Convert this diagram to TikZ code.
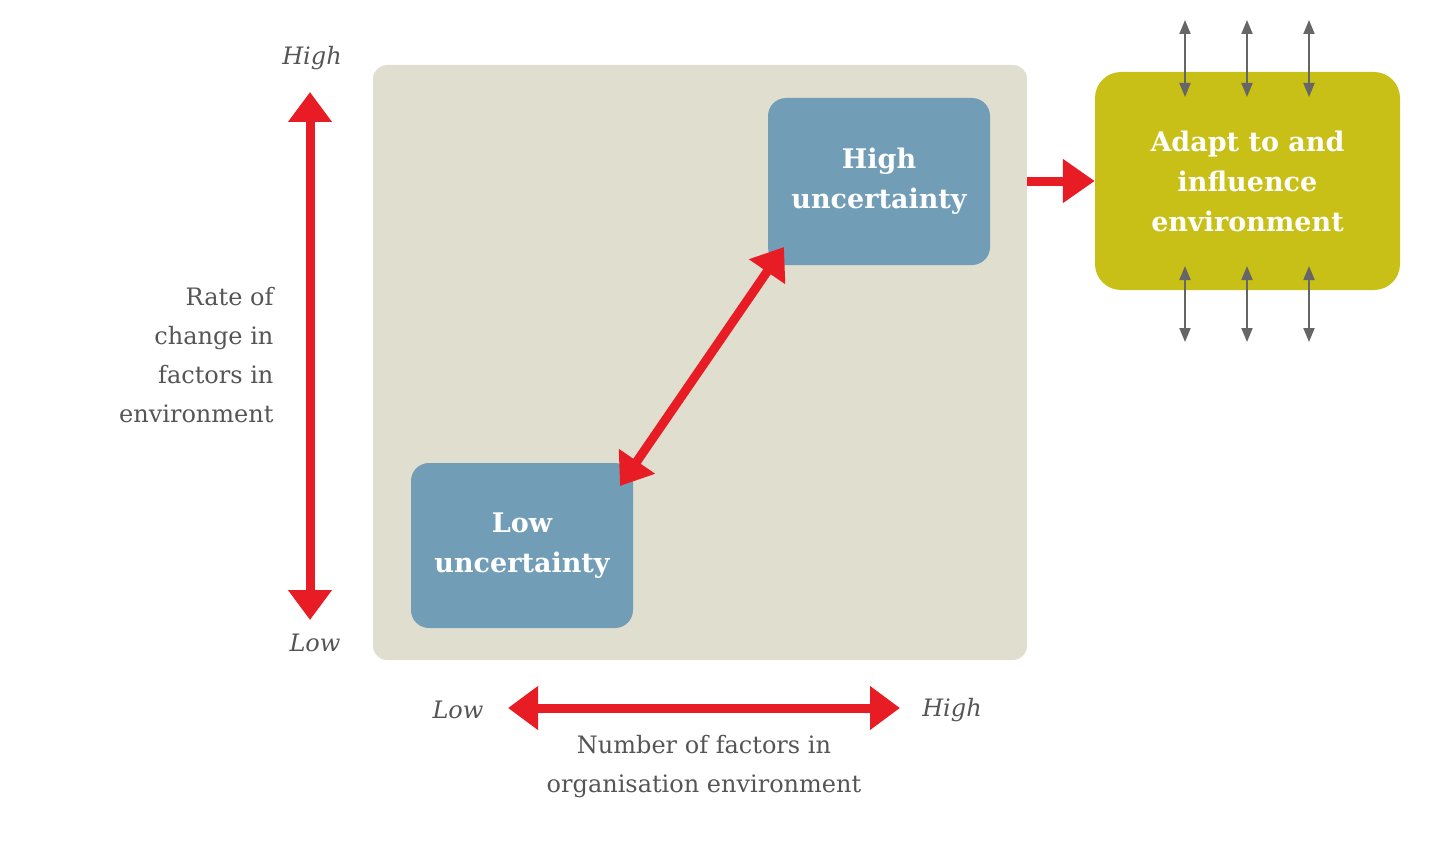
\documentclass[tikz,border=0pt]{standalone}
\usepackage{fontspec}
\setmainfont{DejaVu Serif}
\usetikzlibrary{arrows.meta}
\definecolor{bgbox}{RGB}{224,222,206}
\definecolor{bluebox}{RGB}{114,157,183}
\definecolor{yelbox}{RGB}{200,192,22}
\definecolor{redarr}{RGB}{232,28,36}
\definecolor{txt}{RGB}{85,85,85}
\begin{document}
\begin{tikzpicture}[x=1pt,y=-1pt,
  box/.style={draw=none,rounded corners=18pt,text=white,font=\fontsize{27}{40}\selectfont\bfseries,align=center,inner sep=0pt},
  lab/.style={text=txt,font=\fontsize{24}{39}\selectfont},
  axl/.style={text=txt,font=\fontsize{24}{30}\selectfont\itshape},
  redline/.style={draw=redarr,line width=9pt,{Triangle[length=30pt,width=42pt]}-{Triangle[length=30pt,width=42pt]}},
  grayline/.style={draw=gray!80!black,line width=2pt,{Triangle[length=14pt,width=11pt]}-{Triangle[length=14pt,width=11pt]}}]
\useasboundingbox (0,0) rectangle (1440,864);
\node[box,fill=bgbox,minimum width=654pt,minimum height=595pt,rounded corners=14pt] (bg) at (700,362.5) {};
\node[box,fill=bluebox,minimum width=222pt,minimum height=167pt] (hu) at (879,181.5) {High\\uncertainty};
\node[box,fill=bluebox,minimum width=222pt,minimum height=165pt] (lu) at (522,545.5) {Low\\uncertainty};
\node[box,fill=yelbox,minimum width=305pt,minimum height=218pt,rounded corners=26pt] (ad) at (1247.5,181) {Adapt to and\\influence\\environment};
\coordinate (v1) at (310,92); \coordinate (v2) at (310,620);
\draw[redline] (v1) -- (v2);
\coordinate (h1) at (508,708); \coordinate (h2) at (900,708);
\draw[redline] (h1) -- (h2);
\coordinate (d1) at (784,247); \coordinate (d2) at (620,486);
\draw[redline] (d1) -- (d2);
\draw[draw=redarr,line width=9pt,-{Triangle[length=32pt,width=42pt]}] (bg.east|-ad.west) -- (ad.west);
\foreach \x/\n in {1185/a,1247/b,1309/c}{
  \coordinate (t\n1) at (\x,20); \coordinate (t\n2) at (\x,97);
  \draw[grayline] (t\n1) -- (t\n2);
  \coordinate (b\n1) at (\x,266); \coordinate (b\n2) at (\x,342);
  \draw[grayline] (b\n1) -- (b\n2);
}
\node[axl] (yh) at (312,58) {High};
\node[axl] (yl) at (315,643) {Low};
\node[axl] (xl) at (458,710) {Low};
\node[axl] (xh) at (952,710) {High};
\node[lab,align=right,anchor=east] (yt) at (277,355) {Rate of\\change in\\factors in\\environment};
\node[lab,align=center] (xt) at (704,767) {Number of factors in\\organisation environment};
\end{tikzpicture}
\end{document}
